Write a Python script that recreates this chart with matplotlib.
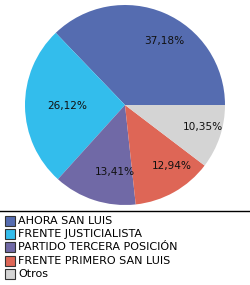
import matplotlib
matplotlib.use("Agg")
import matplotlib.pyplot as plt
import matplotlib.transforms as mtransforms
from matplotlib.patches import Rectangle
from matplotlib.lines import Line2D

parties = ["AHORA SAN LUIS", "FRENTE JUSTICIALISTA", "PARTIDO TERCERA POSICIÓN",
           "FRENTE PRIMERO SAN LUIS", "Otros"]
shares = [37.18, 26.12, 13.41, 12.94, 10.35]
colors = ["#556cb0", "#33bdec", "#7069a6", "#de6656", "#d4d4d4"]

W, H = 250, 285
fig = plt.figure(figsize=(W / 100, H / 100), dpi=100)
fig.patch.set_facecolor("white")

# pie: centre (125,105) px, radius 100 px
ax = fig.add_axes([25 / W, (H - 205) / H, 200 / W, 200 / H])
wedges, texts, autotexts = ax.pie(
    shares, colors=colors, startangle=0, counterclock=True,
    autopct=lambda p: ("%.2f%%" % p).replace(".", ","),
    pctdistance=0.7, wedgeprops=dict(linewidth=0),
    textprops=dict(fontsize=7.6, color="#111111"))
# labels sit a bit right of the slice centre in the original
for t in autotexts:
    t.set_transform(mtransforms.offset_copy(t.get_transform(), fig=fig,
                                            x=12, y=0, units="dots"))
ax.set_xlim(-1, 1)
ax.set_ylim(-1, 1)
ax.set_aspect("auto")
ax.axis("off")

# separator line
fig.add_artist(Line2D([0, 1], [(H - 211) / H] * 2, color="black", lw=1))

# legend
y0 = 221
dy = 13.2
for i, (name, c) in enumerate(zip(parties, colors)):
    yc = y0 + i * dy
    fig.add_artist(Rectangle((5 / W, (H - yc - 5) / H), 10 / W, 10 / H,
                             facecolor=c, edgecolor="#333333", lw=0.8))
    fig.text(18 / W, (H - yc) / H, name, fontsize=8, va="center", ha="left")

fig.savefig("out.png", dpi=100)
